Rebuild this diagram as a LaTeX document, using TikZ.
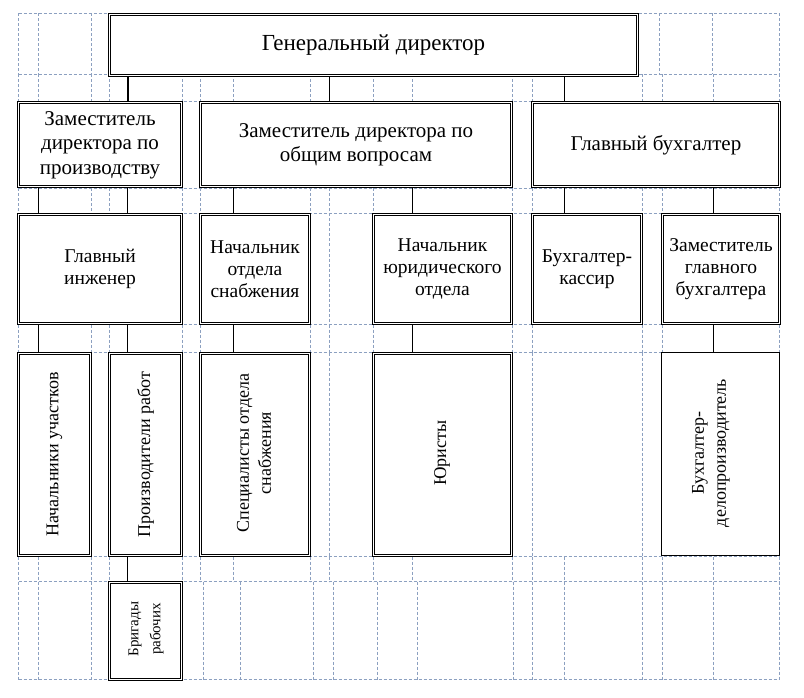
\documentclass[tikz,border=0pt]{standalone}
\usepackage{fontspec}
\setmainfont{Liberation Serif}
\usetikzlibrary{backgrounds}
\definecolor{gridc}{RGB}{140,160,192}
\begin{document}
\begin{tikzpicture}[x=1pt,y=-1pt,
  box/.style={draw, double, line width=1pt, double distance=1pt, fill=white,
    inner sep=0pt, outer sep=0pt, align=center},
  sbox/.style={draw, line width=1pt, fill=white, inner sep=0pt, outer sep=0pt},
  gridl/.style={gridc, line width=0.8pt, dash pattern=on 3pt off 2pt},
  conn/.style={black, line width=1pt},
  fa/.style={font=\fontsize{23}{26}\selectfont},
  fb/.style={font=\fontsize{21}{24.5}\selectfont},
  fc/.style={font=\fontsize{19.5}{22}\selectfont},
  fd/.style={font=\fontsize{18}{22}\selectfont},
  fe/.style={font=\fontsize{15}{22}\selectfont},
  vtext/.style={rotate=90, align=center, inner sep=0pt}]
\useasboundingbox (0,0) rectangle (804,698);

% ---- boxes ----
\node[box, fa, minimum width=528pt, minimum height=61pt] (gd) at (373.5,45) {Генеральный директор};
\node[box, fb, minimum width=163pt, minimum height=84pt] (zp) at (100,145) {Заместитель\\директора по\\производству};
\node[box, fb, minimum width=311pt, minimum height=84pt] (zo) at (356,145) {Заместитель директора по\\общим вопросам};
\node[box, fb, minimum width=247pt, minimum height=84pt] (gb) at (656,145) {Главный бухгалтер};

\node[box, fc, minimum width=163pt, minimum height=109pt] (gi) at (100,269) {Главный\\инженер};
\node[box, fc, minimum width=109pt, minimum height=109pt] (ns) at (255,269) {Начальник\\отдела\\снабжения};
\node[box, fc, minimum width=138pt, minimum height=109pt] (nu) at (442.5,269) {Начальник\\юридического\\отдела};
\node[box, fc, minimum width=109pt, minimum height=109pt] (bk) at (587,269) {Бухгалтер-\\кассир};
\node[box, fc, minimum width=117pt, minimum height=109pt] (zgb) at (721,269) {Заместитель\\главного\\бухгалтера};

\node[box, minimum width=72pt, minimum height=202pt] (nuch) at (54.5,454.5) {};
\node[box, minimum width=72pt, minimum height=202pt] (pr) at (145.5,454.5) {};
\node[box, minimum width=109pt, minimum height=202pt] (sp) at (255,454.5) {};
\node[box, minimum width=138pt, minimum height=202pt] (yu) at (442.5,454.5) {};
\node[sbox, minimum width=118pt, minimum height=203pt] (bd) at (720.5,454) {};
\node[box, minimum width=72pt, minimum height=97pt] (br) at (145.5,631) {};

% ---- rotated texts ----
\node[vtext, fd] (t-nuch) at (nuch.center) {Начальники участков};
\node[vtext, fd] (t-pr) at (pr.center) {Производители работ};
\node[vtext, fd] (t-sp) at (254,453) {Специалисты отдела\\снабжения};
\node[vtext, fd] (t-yu) at (442,453) {Юристы};
\node[vtext, fd] (t-bd) at (711,453) {Бухгалтер-\\делопроизводитель};
\node[vtext, fe] (t-br) at (146,629) {Бригады\\рабочих};

% ---- connector x positions ----
\coordinate (xa) at (38.5,0);
\coordinate (xb) at (127.5,0);
\coordinate (xc) at (233.5,0);
\coordinate (xd) at (329.5,0);
\coordinate (xe) at (412.5,0);
\coordinate (xf) at (564.5,0);
\coordinate (xg) at (713.5,0);
\coordinate (xt) at (128,0);

\begin{scope}[on background layer]
  % grid: horizontal
  \foreach \y in {13.5,74.5,101.5,188.5,213.5,324.5,352.5,556.5,581.5,679.5}
    \draw[gridl] (18.5,\y) -- (779.5,\y);
  % grid: vertical, row by row
  \foreach \x in {18,38,91,109,659,712,779}
    \draw[gridl] (\x+0.5,13.5) -- (\x+0.5,74.5);
  \foreach \x in {18,38,91,109,182,200,233,310,373,412,512,532,642,662,713,779}
    \draw[gridl] (\x+0.5,74.5) -- (\x+0.5,101.5);
  \foreach \x in {18,91,109,182,200,310,329,373,512,532,642,662,779}
    \draw[gridl] (\x+0.5,188.5) -- (\x+0.5,213.5);
  \draw[gridl] (329.5,213.5) -- (329.5,324.5);
  \foreach \x in {18,91,109,182,200,310,329,373,512,532,642,662,779}
    \draw[gridl] (\x+0.5,324.5) -- (\x+0.5,352.5);
  \foreach \x in {329,532,642}
    \draw[gridl] (\x+0.5,352.5) -- (\x+0.5,556.5);
  \foreach \x in {18,38,91,109,182,200,233,310,329,373,412,512,532,564,642,662,713,779}
    \draw[gridl] (\x+0.5,556.5) -- (\x+0.5,581.5);
  \foreach \x in {18,38,91,203,240,313,333,377,417,513,532,564,642,662,713,779}
    \draw[gridl] (\x+0.5,581.5) -- (\x+0.5,679.5);

  % connectors
  \draw[conn, line width=2pt] (gd.south -| xt) -- (zp.north -| xt);
  \draw[conn] (gd.south -| xd) -- (zo.north -| xd);
  \draw[conn] (gd.south -| xf) -- (gb.north -| xf);
  \draw[conn] (zp.south -| xa) -- (gi.north -| xa);
  \draw[conn] (zp.south -| xb) -- (gi.north -| xb);
  \draw[conn] (zo.south -| xc) -- (ns.north -| xc);
  \draw[conn] (zo.south -| xe) -- (nu.north -| xe);
  \draw[conn] (gb.south -| xf) -- (bk.north -| xf);
  \draw[conn] (gb.south -| xg) -- (zgb.north -| xg);
  \draw[conn] (gi.south -| xa) -- (nuch.north -| xa);
  \draw[conn] (gi.south -| xb) -- (pr.north -| xb);
  \draw[conn] (ns.south -| xc) -- (sp.north -| xc);
  \draw[conn] (nu.south -| xe) -- (yu.north -| xe);
  \draw[conn] (zgb.south -| xg) -- (bd.north -| xg);
  \draw[conn] (pr.south -| xb) -- (br.north -| xb);
\end{scope}
\end{tikzpicture}
\end{document}
